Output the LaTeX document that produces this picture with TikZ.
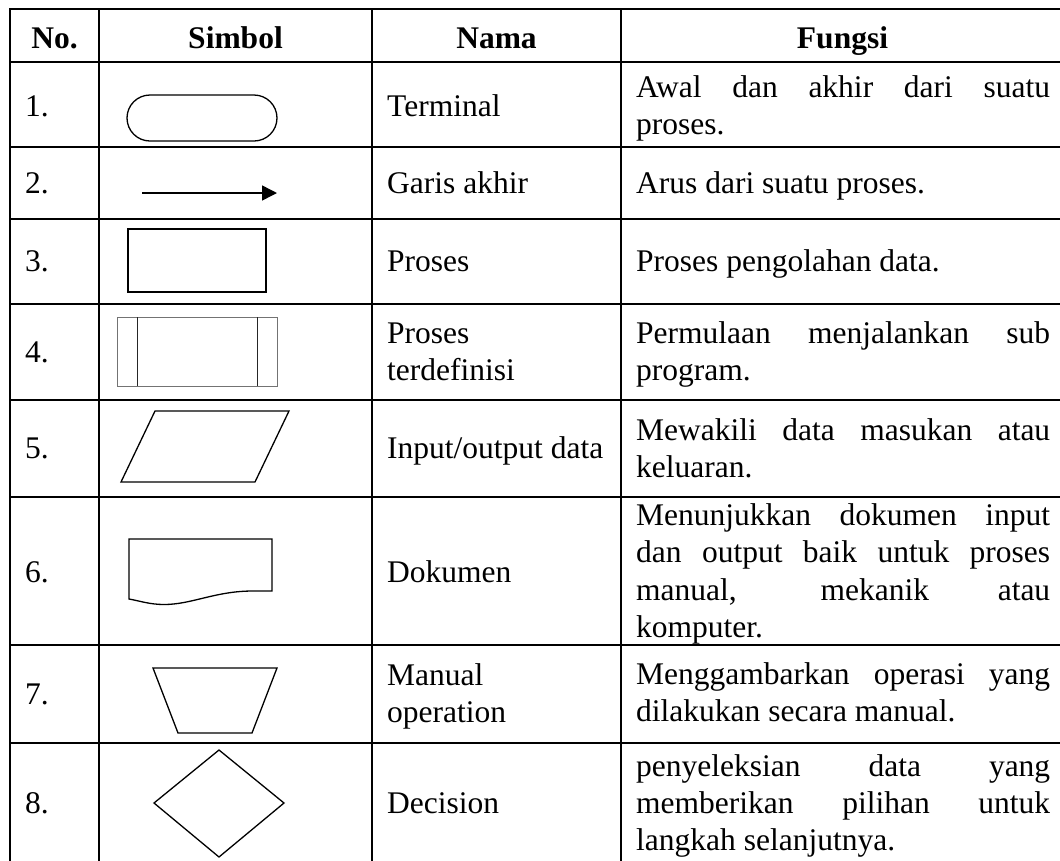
\documentclass[tikz,border=0pt]{standalone}
\usepackage{fontspec}
\setmainfont{Liberation Serif}
\usetikzlibrary{arrows.meta}
\newcommand{\fjust}[1]{\makebox[414pt][s]{#1}}
\begin{document}
\begin{tikzpicture}[x=1pt,y=-1pt,
  txt/.style={inner sep=0pt, anchor=base west, font=\fontsize{31.5}{37}\selectfont},
  hdr/.style={inner sep=0pt, anchor=base, font=\fontsize{31.5}{37}\selectfont\bfseries},
  gridline/.style={line width=2pt, line cap=rect},
  sym/.style={line width=1.3pt, line join=miter},
  thinsym/.style={line width=1pt}]
\useasboundingbox (0,0) rectangle (1060,860);
\fill[white] (0,0) rectangle (1060,860);
% grid
\foreach \yy in {9,62,147,219,304,400,497,645,743}
  \draw[gridline] (10,\yy) -- (1062,\yy);
\foreach \xx in {10,99,372,621}
  \draw[gridline] (\xx,9) -- (\xx,862);
% header
\node[hdr] (hno) at (54.5,48) {No.};
\node[hdr] (hsim) at (235.5,48) {Simbol};
\node[hdr] (hnam) at (496.5,48) {Nama};
\node[hdr] (hfun) at (842.5,48) {Fungsi};
% numbers
\node[txt] (n1) at (25,116) {1.};
\node[txt] (n2) at (25,193) {2.};
\node[txt] (n3) at (25,271) {3.};
\node[txt] (n4) at (25,362) {4.};
\node[txt] (n5) at (25,458) {5.};
\node[txt] (n6) at (25,582) {6.};
\node[txt] (n7) at (25,704) {7.};
\node[txt] (n8) at (25,813) {8.};
% names
\node[txt] (m1) at (387,116) {Terminal};
\node[txt] (m2) at (387,193) {Garis akhir};
\node[txt] (m3) at (387,271) {Proses};
\node[txt] (m4a) at (387,343) {Proses};
\node[txt] (m4b) at (387,380) {terdefinisi};
\node[txt] (m5) at (387,458) {Input/output data};
\node[txt] (m6) at (387,582) {Dokumen};
\node[txt] (m7a) at (387,685) {Manual};
\node[txt] (m7b) at (387,722) {operation};
\node[txt] (m8) at (387,813) {Decision};
% functions
\node[txt] (f1a) at (636,97) {\fjust{Awal dan akhir dari suatu}};
\node[txt] (f1b) at (636,134) {proses.};
\node[txt] (f2) at (636,193) {Arus dari suatu proses.};
\node[txt] (f3) at (636,271) {Proses pengolahan data.};
\node[txt] (f4a) at (636,343) {\fjust{Permulaan menjalankan sub}};
\node[txt] (f4b) at (636,380) {program.};
\node[txt] (f5a) at (636,440) {\fjust{Mewakili data masukan atau}};
\node[txt] (f5b) at (636,477) {keluaran.};
\node[txt] (f6a) at (636,525) {\fjust{Menunjukkan dokumen input}};
\node[txt] (f6b) at (636,562) {\fjust{dan output baik untuk proses}};
\node[txt] (f6c) at (636,600) {\fjust{manual, mekanik atau}};
\node[txt] (f6d) at (636,637) {komputer.};
\node[txt] (f7a) at (636,684) {\fjust{Menggambarkan operasi yang}};
\node[txt] (f7b) at (636,721) {dilakukan secara manual.};
\node[txt] (f8a) at (636,776) {\fjust{penyeleksian data yang}};
\node[txt] (f8b) at (636,813) {\fjust{memberikan pilihan untuk}};
\node[txt] (f8c) at (636,850) {langkah selanjutnya.};
% symbols
% 1 terminal
\draw[sym, rounded corners=23pt] (127,95) rectangle (277,141);
% 2 arrow
\coordinate (a1) at (142,193);
\coordinate (a2) at (277,193);
\draw[line width=1.5pt, -{Triangle[length=15pt,width=15pt]}] (a1) -- (a2);
% 3 process
\draw[sym] (128,229) rectangle (266,292);
% 4 predefined process
\draw[thinsym, black!55] (117,317) rectangle (277,386);
\draw[thinsym, black!85] (137,317) -- (137,386);
\draw[thinsym, black!85] (257,317) -- (257,386);
% 5 input/output
\draw[sym] (155,411) -- (289,411) -- (255,482) -- (121,482) -- cycle;
% 6 document
\draw[sym] (129,599) -- (129,539) -- (272,539) -- (272,591) -- (253,591)
  .. controls (215,591) and (192,604.5) .. (164,604.5)
  .. controls (150,604.5) and (140,601) .. (129,599) -- cycle;
% 7 manual operation
\draw[sym] (153,668) -- (277,668) -- (252,733) -- (178,733) -- cycle;
% 8 decision
\draw[sym] (219,750) -- (284,803) -- (219,857) -- (154,803) -- cycle;
\end{tikzpicture}
\end{document}
